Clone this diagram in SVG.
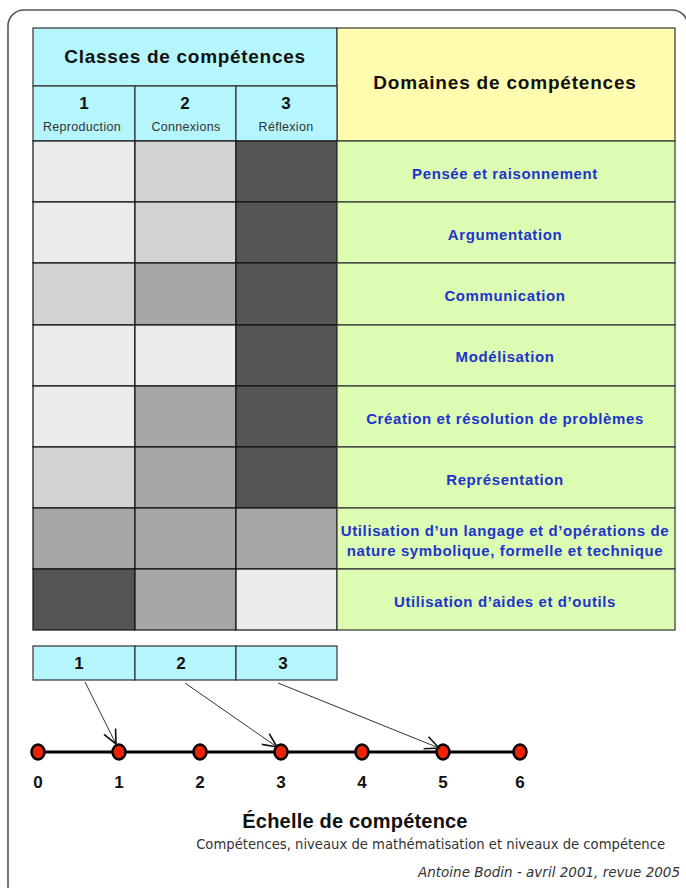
<svg xmlns="http://www.w3.org/2000/svg" width="686" height="888" viewBox="0 0 686 888">
<style>
.f{font-family:"DejaVu Sans",Verdana,sans-serif}
.h{font-family:"Liberation Sans",Arial,sans-serif;font-weight:bold;fill:#111;text-anchor:middle}
.d{font-family:"Liberation Sans",Arial,sans-serif;font-weight:bold;fill:#1f33cc;text-anchor:middle;font-size:15px;letter-spacing:0.6px}
.sub{font-family:"Liberation Sans",Arial,sans-serif;fill:#333;text-anchor:middle;font-size:12.5px;letter-spacing:0.3px}
.cy{fill:#b5f6fd;stroke:#333;stroke-width:1.2}
.gr{fill:#dcfcb2;stroke:#333;stroke-width:1.2}
.c1{fill:#ebebeb;stroke:#111;stroke-width:1.2}
.c2{fill:#d3d3d3;stroke:#111;stroke-width:1.2}
.c3{fill:#a7a7a7;stroke:#111;stroke-width:1.2}
.c4{fill:#555555;stroke:#111;stroke-width:1.2}
.lbl{font-family:"Liberation Sans",Arial,sans-serif;font-weight:bold;fill:#111;text-anchor:middle;font-size:17px}
.dot{fill:#ee2200;stroke:#000;stroke-width:2.5}
.arr{stroke:#333;stroke-width:1;fill:none;marker-end:url(#ah)}
</style>
<defs>
<marker id="ah" viewBox="0 0 16 16" refX="15" refY="8" markerWidth="16" markerHeight="16" markerUnits="userSpaceOnUse" orient="auto">
<path d="M1,1.5 L15,8 L1,14.5" fill="none" stroke="#111" stroke-width="1.6"/>
</marker>
</defs>
<rect width="686" height="888" fill="#fff"/>
<rect x="8" y="10" width="680" height="892" rx="16" fill="none" stroke="#555" stroke-width="1.6"/>

<g id="header">
<rect x="33" y="28" width="304" height="58" class="cy"/>
<text x="185" y="63" class="h" font-size="19" letter-spacing="0.7">Classes de compétences</text>
<rect x="337" y="28" width="338" height="113" fill="#fffcb0" stroke="#333" stroke-width="1.2"/>
<text x="505" y="89" class="h" font-size="19" letter-spacing="0.8">Domaines de compétences</text>
<rect x="33" y="86" width="102" height="55" class="cy"/>
<rect x="135" y="86" width="101" height="55" class="cy"/>
<rect x="236" y="86" width="101" height="55" class="cy"/>
<text x="84" y="109" class="h" font-size="17">1</text>
<text x="185" y="109" class="h" font-size="17">2</text>
<text x="286" y="109" class="h" font-size="17">3</text>
<text x="82" y="131" class="sub">Reproduction</text>
<text x="186" y="131" class="sub">Connexions</text>
<text x="286" y="131" class="sub">Réflexion</text>
</g>

<g id="row1">
<rect x="33" y="141" width="102" height="61" class="c1"/><rect x="135" y="141" width="101" height="61" class="c2"/><rect x="236" y="141" width="101" height="61" class="c4"/>
<rect x="337" y="141" width="338" height="61" class="gr"/>
<text x="505" y="179" class="d">Pensée et raisonnement</text>
</g>
<g id="row2">
<rect x="33" y="202" width="102" height="61" class="c1"/><rect x="135" y="202" width="101" height="61" class="c2"/><rect x="236" y="202" width="101" height="61" class="c4"/>
<rect x="337" y="202" width="338" height="61" class="gr"/>
<text x="505" y="240" class="d">Argumentation</text>
</g>
<g id="row3">
<rect x="33" y="263" width="102" height="62" class="c2"/><rect x="135" y="263" width="101" height="62" class="c3"/><rect x="236" y="263" width="101" height="62" class="c4"/>
<rect x="337" y="263" width="338" height="62" class="gr"/>
<text x="505" y="301" class="d">Communication</text>
</g>
<g id="row4">
<rect x="33" y="325" width="102" height="61" class="c1"/><rect x="135" y="325" width="101" height="61" class="c1"/><rect x="236" y="325" width="101" height="61" class="c4"/>
<rect x="337" y="325" width="338" height="61" class="gr"/>
<text x="505" y="362" class="d">Modélisation</text>
</g>
<g id="row5">
<rect x="33" y="386" width="102" height="61" class="c1"/><rect x="135" y="386" width="101" height="61" class="c3"/><rect x="236" y="386" width="101" height="61" class="c4"/>
<rect x="337" y="386" width="338" height="61" class="gr"/>
<text x="505" y="424" class="d">Création et résolution de problèmes</text>
</g>
<g id="row6">
<rect x="33" y="447" width="102" height="61" class="c2"/><rect x="135" y="447" width="101" height="61" class="c3"/><rect x="236" y="447" width="101" height="61" class="c4"/>
<rect x="337" y="447" width="338" height="61" class="gr"/>
<text x="505" y="485" class="d">Représentation</text>
</g>
<g id="row7">
<rect x="33" y="508" width="102" height="61" class="c3"/><rect x="135" y="508" width="101" height="61" class="c3"/><rect x="236" y="508" width="101" height="61" class="c3"/>
<rect x="337" y="508" width="338" height="61" class="gr"/>
<text x="505" y="536" class="d">Utilisation d’un langage et d’opérations de</text>
<text x="505" y="556" class="d">nature symbolique, formelle et technique</text>
</g>
<g id="row8">
<rect x="33" y="569" width="102" height="61" class="c4"/><rect x="135" y="569" width="101" height="61" class="c3"/><rect x="236" y="569" width="101" height="61" class="c1"/>
<rect x="337" y="569" width="338" height="61" class="gr"/>
<text x="505" y="607" class="d">Utilisation d’aides et d’outils</text>
</g>

<g id="classes-bar">
<rect x="33" y="646" width="102" height="34" class="cy"/>
<rect x="135" y="646" width="101" height="34" class="cy"/>
<rect x="236" y="646" width="101" height="34" class="cy"/>
<text x="79" y="669" class="lbl">1</text>
<text x="181" y="669" class="lbl">2</text>
<text x="283" y="669" class="lbl">3</text>
</g>

<g id="scale">
<line x1="38" y1="752" x2="520" y2="752" stroke="#000" stroke-width="3"/>
<ellipse cx="38" cy="752" rx="6.5" ry="7.5" class="dot"/>
<ellipse cx="119" cy="752" rx="6.5" ry="7.5" class="dot"/>
<ellipse cx="200" cy="752" rx="6.5" ry="7.5" class="dot"/>
<ellipse cx="281" cy="752" rx="6.5" ry="7.5" class="dot"/>
<ellipse cx="362" cy="752" rx="6.5" ry="7.5" class="dot"/>
<ellipse cx="443" cy="752" rx="6.5" ry="7.5" class="dot"/>
<ellipse cx="520" cy="752" rx="6.5" ry="7.5" class="dot"/>
<text x="38" y="788" class="lbl">0</text>
<text x="119" y="788" class="lbl">1</text>
<text x="200" y="788" class="lbl">2</text>
<text x="281" y="788" class="lbl">3</text>
<text x="362" y="788" class="lbl">4</text>
<text x="443" y="788" class="lbl">5</text>
<text x="520" y="788" class="lbl">6</text>
</g>

<g id="connectors">
<line x1="85" y1="682" x2="116" y2="744" class="arr"/>
<line x1="185" y1="683" x2="277" y2="747" class="arr"/>
<line x1="278" y1="683" x2="439" y2="748" class="arr"/>
</g>

<g id="captions">
<text x="355" y="828" class="h" font-size="20" letter-spacing="0.2">Échelle de compétence</text>
<text x="665" y="849" class="f" font-size="13.2" fill="#333" text-anchor="end">Compétences, niveaux de mathématisation et niveaux de compétence</text>
<text x="680" y="877" class="f" font-size="13.5" font-style="italic" fill="#333" text-anchor="end">Antoine Bodin - avril 2001, revue 2005</text>
</g>
</svg>
